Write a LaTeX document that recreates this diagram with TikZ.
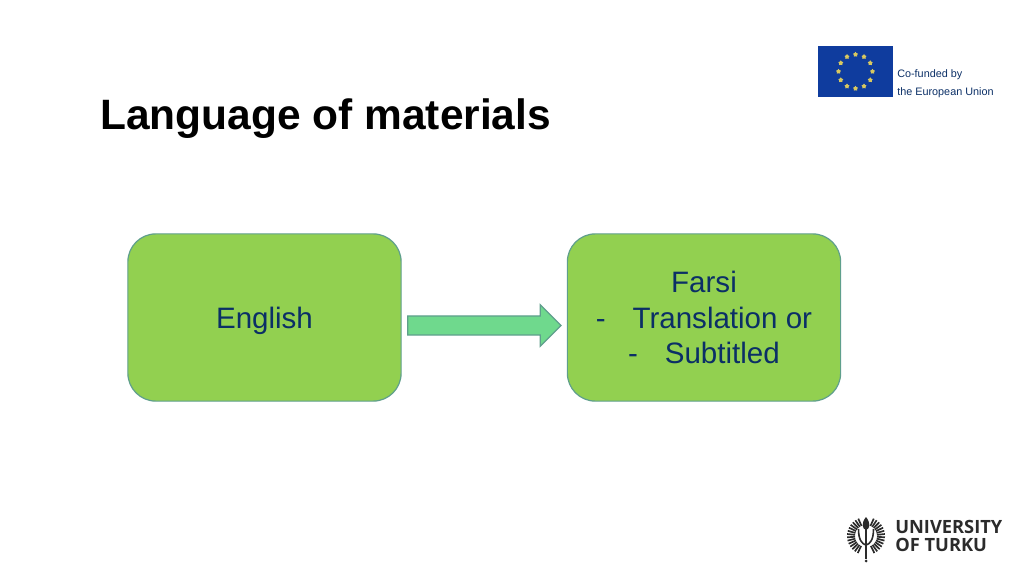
\documentclass[tikz,border=0pt]{standalone}
\usepackage{fontspec}
\setmainfont{Liberation Sans}
\newfontfamily\logofont{Open Sans}
\usetikzlibrary{calc, shapes.geometric, shapes.arrows}
\definecolor{boxgreen}{HTML}{92D050}
\definecolor{boxedge}{HTML}{5F9F8C}
\definecolor{arrowgreen}{HTML}{6FD98D}
\definecolor{navytext}{HTML}{0B2F66}
\definecolor{flagblue}{HTML}{0F3C9E}
\definecolor{stargold}{HTML}{D8C860}
\definecolor{logogray}{HTML}{2B2B2B}
\tikzset{
	langbox/.style={shape=rectangle, draw=boxedge, line width=0.03cm, fill=boxgreen, rounded corners=0.7cm, minimum width=6.83cm, minimum height=4.18cm, text=navytext, align=center, font=\fontsize{21}{25.2}\selectfont},
	langarrow/.style={shape=single arrow, draw=boxedge, line width=0.03cm, fill=arrowgreen, minimum height=3.83cm, minimum width=1.03cm, single arrow head extend=0.26cm, inner sep=0.21cm},
	eustar/.style={shape=star, star points=5, fill=stargold, minimum size=0.13cm, inner sep=0pt},
	feather/.style={color=logogray, line width=0.042cm}
}
\begin{document}
\begin{tikzpicture}[x=0.025cm, y=-0.025cm]
			\useasboundingbox (0, 0) rectangle (1024, 576);
			%Title:
			\node[anchor=west, font=\fontsize{30.2}{36}\selectfont\bfseries, text=black, inner sep=0pt] (title) at (100, 119) {Language of materials};
			%Boxes and arrow:
			\node[langbox] (english) at (264.5, 317.5) {\rule{0pt}{0.69cm}English};
			\node[langbox] (farsi) at (704, 317.5) {Farsi\\-\hspace{0.67cm}Translation or\\-\hspace{0.67cm}Subtitled};
			\node[langarrow] (arrow) at (479.5, 325.5) {};
			%EU flag:
			\fill[flagblue] (818, 46.5) rectangle (893, 97);
			\foreach \a in {0, 30, ..., 330}
				\node[eustar] (star\a) at ($(855.5, 71.5) + (\a:17)$) {};
			\node[anchor=west, text=navytext, font=\fontsize{7.7}{10}\selectfont, inner sep=0pt] (cofunded) at (897, 75) {Co-funded by};
			\node[anchor=west, text=navytext, font=\fontsize{7.7}{10}\selectfont, inner sep=0pt] (union) at (897, 93) {the European Union};
			%Turku logo:
			\foreach \a in {116, 126, ..., 246}
				\draw[feather] ($(866, 536) + (\a:11)$) -- ($(866, 536) + (\a:19)$);
			\foreach \a in {-66, -56, ..., 64}
				\draw[feather] ($(866, 536) + (\a:11)$) -- ($(866, 536) + (\a:19)$);
			\draw[color=logogray, line width=0.05cm] (866, 528) -- (866, 559);
			\fill[logogray] (866, 561) circle (1.5);
			\draw[color=logogray, line width=0.04cm] (858.5, 529) .. controls (858.5, 540) and (862, 544) .. (866, 545) .. controls (870, 544) and (873.5, 540) .. (873.5, 529);
			\fill[logogray] (866, 517) .. controls (861, 523) and (862, 529) .. (866, 530) .. controls (870, 529) and (871, 523) .. (866, 517);
			\node[anchor=west, text=logogray, font=\logofont\bfseries\fontsize{13}{16}\selectfont, inner sep=0pt] (university) at (895, 527) {UNIVERSITY};
			\node[anchor=west, text=logogray, font=\logofont\bfseries\fontsize{13}{16}\selectfont, inner sep=0pt] (turku) at (895, 545) {OF TURKU};
\end{tikzpicture}
\end{document}
